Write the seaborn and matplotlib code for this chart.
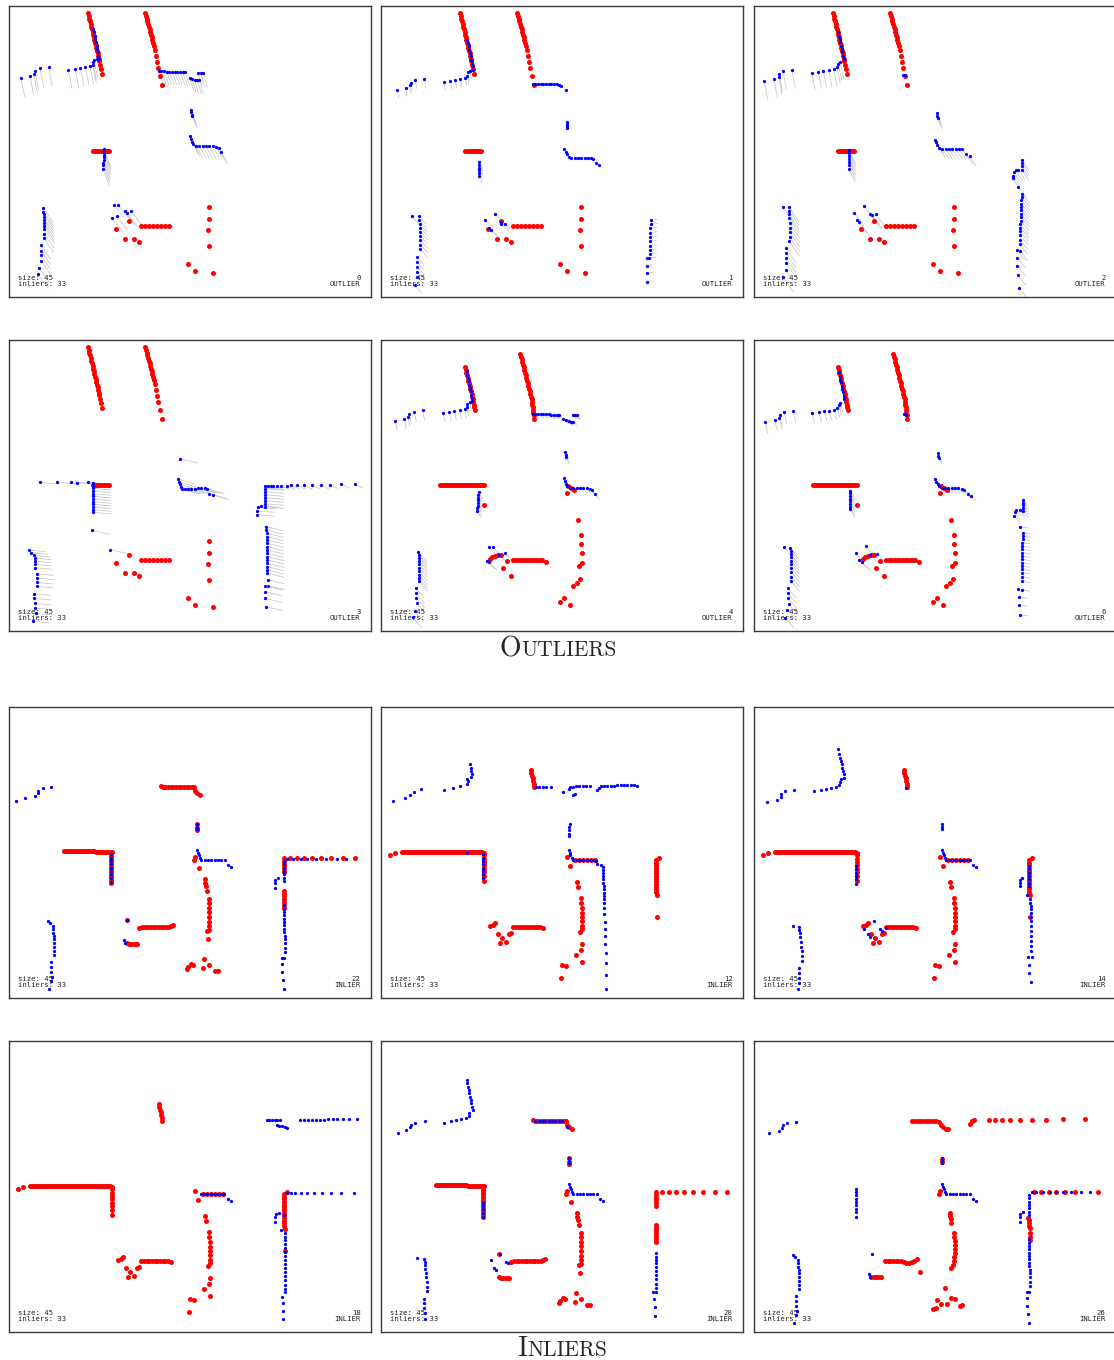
import pandas as pd
import seaborn as sns
import matplotlib.pyplot as plt
from matplotlib.collections import LineCollection

# coordinates are in "scan units": 3 units per output pixel, y grows downward

# ---- red scan shared by outlier panels 0-3
R1_LEFT = [(240, 25), (242, 33), (244, 41), (246, 49), (248, 57), (250, 65), (252, 73), (254, 81), (256, 89),
           (258, 97), (259, 105), (261, 113), (263, 121), (265, 129), (267, 137), (269, 145), (271, 153),
           (272, 161), (274, 169), (276, 179), (278, 192), (281, 207)]
R1_RIGHT = [(412, 25), (414, 33), (416, 41), (418, 49), (420, 57), (423, 65), (425, 73), (427, 81), (429, 89),
            (431, 97), (433, 105), (436, 113), (438, 124), (440, 136), (443, 152), (446, 170), (450, 190),
            (456, 213), (461, 240)]
R1_T = [(256, 438), (262, 438), (268, 439), (274, 439), (280, 439), (286, 439), (292, 439), (298, 439), (304, 438)]
R1_BOTTOM = [(400, 663), (412, 663), (424, 663), (436, 663), (448, 663), (460, 663), (472, 663), (484, 662),
             (362, 648), (323, 671), (351, 702), (378, 702), (394, 712), (604, 606), (604, 643), (601, 676),
             (603, 723), (540, 777), (561, 797), (614, 803)]

# ---- red scan shared by outlier panels 4 and 6
R2_LEFT = [(255, 85), (257, 93), (259, 101), (261, 109), (263, 117), (265, 125), (267, 133), (269, 141),
           (271, 149), (273, 157), (275, 165), (277, 173), (279, 181), (280, 189), (282, 197), (283, 205),
           (284, 212)]
R2_RIGHT = [(421, 45), (423, 53), (425, 61), (427, 69), (429, 77), (431, 85), (433, 93), (435, 101), (437, 109),
            (439, 117), (441, 125), (443, 133), (445, 141), (447, 149), (449, 157), (451, 165), (453, 173),
            (455, 181), (456, 189), (457, 197), (458, 205), (459, 213), (460, 221), (461, 229), (462, 240)]
R2_WALL = [(180, 437), (186, 437), (192, 437), (198, 437), (204, 437), (210, 437), (216, 437), (222, 437),
           (228, 437), (234, 437), (240, 437), (246, 438), (252, 438), (258, 438), (264, 438), (270, 438),
           (276, 438), (282, 438), (288, 438), (294, 439), (300, 439), (306, 439), (312, 439), (312, 497)]
R2_MID = [(565, 440), (572, 448), (582, 452), (562, 463)]
R2_BOTTOM = [(399, 664), (407, 664), (415, 664), (423, 664), (431, 664), (439, 664), (447, 664), (455, 663),
             (463, 663), (471, 663), (479, 662), (487, 663), (498, 668), (337, 654), (346, 650), (354, 648),
             (362, 649), (330, 660), (380, 666), (370, 686), (394, 712), (593, 543), (603, 589), (604, 616),
             (605, 643), (605, 672), (597, 681), (600, 721), (591, 731), (579, 740), (551, 776), (541, 789),
             (571, 798)]

# ---- blue scans of the outlier panels (with correspondence offsets)
B0_ROW_A = [(39, 218), (66, 213), (77, 206), (81, 197), (96, 190), (122, 187)]
B0_ROW_B = [(181, 195), (201, 192), (217, 189), (232, 186), (246, 184), (254, 180), (254, 170), (258, 165)]
B0_DIAG = [(256, 72), (258, 82), (260, 92), (262, 102), (264, 112), (266, 122), (267, 132), (269, 142),
           (270, 152), (272, 162), (266, 162)]
B0_TOP = [(452, 199), (460, 199), (468, 199), (476, 200), (484, 200), (492, 200), (500, 200), (508, 201),
          (516, 201), (524, 202), (531, 202)]
B0_TOP2 = [(545, 218), (552, 222), (560, 226), (568, 226), (574, 224), (570, 203), (578, 204), (586, 205)]
B0_POST = [(548, 315), (550, 322), (551, 330), (553, 334)]
B0_L = [(546, 394), (548, 402), (551, 410), (556, 418), (564, 422), (574, 423), (584, 423), (594, 424),
        (604, 424), (614, 424), (624, 425), (632, 428), (638, 441)]
B0_T = [(288, 433), (289, 441), (289, 449), (288, 457), (287, 465), (286, 473), (285, 481), (284, 491)]
B0_SW = [(106, 610), (106, 620), (107, 628), (107, 637), (108, 646), (108, 655), (109, 664), (109, 673),
         (108, 686), (107, 700), (98, 720), (98, 737), (98, 751), (99, 767), (93, 789), (90, 808)]
B0_S = [(319, 599), (330, 599), (350, 619), (357, 623), (369, 617), (311, 638), (326, 634)]

B1_ROW_A = [(52, 255), (77, 248), (89, 241), (93, 233), (106, 226), (133, 223)]
B1_ROW_B = [(191, 231), (211, 228), (226, 224), (240, 221), (256, 218), (262, 212), (263, 202), (270, 198)]
B1_DIAG = [(262, 104), (264, 114), (266, 124), (268, 134), (270, 144), (272, 154), (274, 164), (276, 174),
           (278, 184), (280, 194)]
B1_TOP = [(458, 237), (466, 236), (474, 236), (482, 236), (490, 237), (498, 237), (506, 237), (514, 237),
          (522, 238), (530, 238), (538, 239), (544, 242), (557, 255)]
B1_POST = [(560, 350), (561, 357), (561, 364), (560, 369)]
B1_L = [(553, 432), (557, 440), (561, 447), (566, 455), (574, 458), (584, 458), (594, 458), (604, 458),
        (614, 459), (624, 459), (634, 460), (640, 462), (648, 474), (656, 479)]
B1_T = [(298, 472), (298, 480), (298, 488), (298, 496), (297, 504), (296, 514)]
B1_SW = [(95, 634), (117, 634), (118, 646), (119, 657), (120, 668), (121, 680), (121, 693), (121, 706),
         (121, 719), (121, 733), (110, 756), (110, 771), (111, 785), (112, 800), (112, 816), (104, 841)]
B1_S = [(344, 628), (316, 646), (327, 670), (332, 676), (362, 656), (364, 650), (376, 656)]
B1_E = [(812, 646), (812, 658), (811, 670), (811, 683), (811, 696), (810, 709), (810, 722), (810, 735),
        (809, 746), (800, 760), (808, 760), (800, 782), (800, 805), (802, 832)]

B2_ROW_A = [(34, 228), (63, 223), (77, 215), (78, 206), (90, 199), (117, 196)]
B2_ROW_B = [(176, 204), (196, 201), (211, 198), (227, 195), (242, 193), (252, 186), (256, 176), (262, 172)]
B2_DIAG = [(256, 82), (258, 92), (260, 102), (262, 112), (264, 122), (266, 132), (268, 142), (270, 152),
           (272, 162), (450, 209), (456, 210)]
B2_POST = [(551, 324), (552, 332), (554, 340)]
B2_L = [(545, 404), (548, 412), (553, 420), (558, 428), (568, 431), (578, 432), (588, 432), (598, 432),
        (608, 432), (618, 433), (628, 433), (640, 448), (650, 453)]
B2_T = [(288, 436), (288, 445), (288, 454), (288, 463), (288, 472), (288, 481), (287, 491)]
B2_HOOK = [(808, 466), (807, 475), (806, 484), (806, 494), (796, 494), (788, 496), (782, 502), (780, 512),
           (779, 520)]
B2_E = [(796, 547), (806, 566), (806, 576), (805, 586), (805, 596), (804, 606), (804, 616), (803, 626),
        (803, 636), (803, 647), (802, 658), (802, 668), (801, 678), (801, 690), (800, 704), (800, 718),
        (791, 735), (800, 737), (792, 758), (792, 782), (794, 811), (797, 848)]
B2_SW = [(90, 606), (108, 606), (108, 617), (108, 628), (109, 640), (110, 654), (110, 668), (110, 681),
         (110, 695), (109, 708), (100, 730), (99, 744), (99, 758), (100, 774), (98, 794), (90, 815)]
B2_S = [(333, 603), (303, 623), (350, 627), (357, 630), (368, 626), (313, 646), (319, 652)]

B3_LONE = [(515, 360), (251, 574), (306, 632)]
B3_ROW = [(96, 430), (147, 430), (190, 428), (207, 431), (241, 430)]
B3_T = [(255, 432), (255, 440), (255, 448), (255, 456), (255, 464), (255, 472), (255, 480), (255, 488),
        (255, 496), (255, 504), (255, 512), (256, 520)]
B3_MID = [(510, 420), (513, 428), (516, 436), (518, 444), (522, 450), (530, 450), (540, 450), (550, 449),
          (560, 449), (570, 448), (580, 448), (590, 448), (598, 449), (604, 464), (614, 467)]
B3_SW = [(62, 633), (68, 641), (77, 649), (81, 657), (81, 666), (81, 676), (82, 686), (86, 704), (87, 717),
         (87, 730), (88, 742), (78, 764), (79, 778), (80, 793), (82, 807), (84, 823), (74, 847)]
B3_NE = [(772, 441), (780, 441), (788, 441), (796, 441), (806, 441), (820, 441), (836, 440), (850, 439),
         (868, 439), (888, 439), (911, 438), (938, 438), (966, 437), (1000, 436), (1040, 435)]
B3_HOOK = [(772, 449), (772, 458), (772, 467), (772, 476), (772, 485), (771, 494), (771, 503), (760, 500),
           (750, 505), (746, 515), (746, 527)]
B3_E = [(775, 563), (775, 573), (776, 583), (776, 593), (777, 603), (777, 613), (777, 623), (777, 633),
        (777, 643), (778, 653), (778, 663), (778, 673), (778, 683), (778, 693), (778, 703), (779, 722),
        (772, 741), (779, 740), (771, 758), (771, 778), (775, 803)]

B4_ROW_A = [(46, 246), (73, 240), (84, 233), (88, 224), (103, 218), (128, 214)]
B4_ROW_B = [(189, 221), (208, 218), (223, 215), (239, 214), (254, 211), (260, 203), (262, 194), (270, 190)]
B4_DIAG = [(260, 97), (262, 107), (264, 117), (266, 127), (268, 137), (270, 147), (272, 157), (274, 167),
           (276, 177), (276, 187)]
B4_TOP = [(458, 225), (466, 225), (474, 226), (482, 226), (490, 226), (498, 226), (506, 226), (514, 227),
          (522, 227), (530, 227), (538, 227), (550, 240), (558, 244), (566, 246), (572, 250), (580, 248),
          (578, 228), (586, 228), (592, 229)]
B4_POST = [(556, 340), (557, 348), (558, 355)]
B4_L = [(552, 418), (555, 426), (559, 434), (562, 442), (570, 446), (580, 447), (590, 447), (600, 447),
        (610, 448), (620, 448), (630, 449), (636, 452), (646, 466)]
B4_T = [(296, 460), (295, 468), (295, 476), (294, 484), (294, 492), (293, 500), (292, 508), (292, 517)]
B4_SW = [(115, 638), (116, 647), (117, 656), (117, 665), (118, 675), (118, 686), (118, 697), (118, 708),
         (118, 718), (118, 727), (108, 748), (108, 763), (109, 777), (110, 792), (104, 816), (99, 835)]
B4_S = [(327, 625), (338, 625), (320, 665), (326, 668), (358, 647), (375, 643)]

B6_ROW_A = [(36, 248), (65, 242), (79, 236), (80, 227), (93, 219), (120, 216)]
B6_ROW_B = [(177, 223), (198, 220), (214, 217), (229, 215), (243, 212), (253, 207), (258, 198), (262, 192)]
B6_DIAG = [(258, 100), (260, 110), (262, 120), (264, 130), (266, 140), (268, 150), (270, 160), (272, 170),
           (274, 180), (453, 226), (460, 228)]
B6_POST = [(555, 342), (556, 350), (557, 357)]
B6_L = [(546, 420), (550, 428), (554, 434), (558, 442), (566, 446), (576, 447), (586, 447), (596, 448),
        (606, 448), (616, 448), (626, 449), (634, 452), (644, 465), (654, 470)]
B6_T = [(292, 455), (292, 463), (292, 471), (292, 479), (292, 487), (292, 495), (291, 503), (291, 511)]
B6_HOOK = [(811, 483), (811, 491), (811, 499), (811, 507), (810, 515), (800, 512), (790, 513), (785, 520),
           (784, 530)]
B6_E = [(800, 563), (809, 581), (809, 591), (809, 601), (808, 611), (808, 621), (808, 631), (808, 641),
        (808, 651), (808, 661), (807, 671), (807, 681), (807, 691), (806, 701), (806, 713), (806, 727),
        (796, 751), (806, 753), (797, 774), (798, 798), (800, 827)]
B6_SW = [(94, 625), (112, 628), (113, 637), (113, 646), (114, 655), (114, 665), (115, 675), (115, 687),
         (115, 700), (115, 714), (115, 727), (105, 748), (105, 763), (106, 778), (107, 794), (103, 812), (97, 836)]
B6_S = [(338, 622), (308, 643), (352, 648), (373, 645), (318, 663), (326, 668)]

# ---- red scan shared by inlier panels 12, 14, 18
RA_TOP = [(452, 193), (454, 201), (456, 209), (458, 217), (460, 225), (462, 233), (462, 243)]
RA_WALL = [(30, 447), (46, 442), (66, 437), (72, 437), (78, 437), (84, 437), (90, 437), (96, 437), (102, 437),
           (108, 437), (114, 437), (120, 437), (126, 437), (132, 437), (138, 437), (144, 437), (150, 437),
           (156, 437), (162, 437), (168, 437), (174, 437), (180, 437), (186, 437), (192, 437), (198, 437),
           (204, 437), (210, 437), (216, 437), (222, 437), (228, 437), (234, 437), (240, 437), (246, 438),
           (252, 438), (258, 438), (264, 438), (270, 438), (276, 438), (282, 438), (288, 438), (294, 438),
           (300, 438), (306, 439), (312, 440)]
RA_DROP = [(312, 448), (312, 458), (312, 468), (312, 478), (312, 488), (312, 498), (312, 510), (312, 524)]
RA_MID = [(560, 454), (570, 481), (584, 461), (596, 461), (608, 461), (620, 461), (632, 461), (644, 461)]
RA_EAST = [(836, 457), (828, 462), (828, 470), (828, 478), (828, 486), (828, 494), (828, 502), (828, 510),
           (828, 518), (828, 526), (828, 534), (829, 542), (829, 550), (829, 558), (830, 568), (830, 634)]
RA_SOUTH = [(592, 528), (595, 544), (603, 576), (604, 590), (605, 605), (605, 620), (605, 633), (605, 646),
            (605, 660), (606, 668), (601, 679), (607, 715), (604, 732), (589, 748), (606, 767), (545, 776),
            (557, 779), (544, 816)]
RA_BENCH = [(400, 664), (408, 664), (416, 664), (424, 664), (432, 664), (440, 664), (448, 664), (456, 664),
            (464, 663), (472, 663), (480, 663), (490, 667), (330, 659), (338, 656), (346, 652), (353, 684),
            (359, 710), (367, 697), (377, 708), (386, 684), (394, 681)]

# ---- red scan shared by inlier panels 22 and 20
RB_TOP = [(460, 240), (466, 242), (472, 242), (480, 242), (488, 242), (496, 242), (504, 242), (512, 242),
          (520, 242), (528, 242), (536, 242), (544, 243), (552, 243), (558, 244), (562, 254), (566, 262),
          (575, 266)]
RB_WALL = [(168, 435), (174, 435), (180, 435), (186, 435), (192, 435), (198, 435), (204, 435), (210, 435),
           (216, 435), (222, 435), (228, 435), (234, 436), (240, 436), (246, 436), (252, 436), (258, 436),
           (264, 437), (270, 437), (276, 437), (282, 437), (288, 437), (294, 437), (300, 437), (306, 438),
           (312, 438)]
RB_DROP = [(310, 442), (310, 450), (310, 458), (310, 466), (310, 474), (310, 482), (310, 490), (310, 498),
           (310, 506), (310, 514), (310, 522), (310, 530)]
RB_MID = [(566, 355), (566, 365), (567, 372), (560, 452), (558, 462), (573, 486)]
RB_SOUTH = [(591, 518), (592, 530), (593, 540), (597, 556), (602, 580), (603, 592), (603, 605), (603, 618),
            (603, 632), (603, 648), (602, 660), (602, 672), (597, 676), (601, 699), (587, 760), (548, 775),
            (541, 782), (537, 788), (555, 777), (603, 778), (586, 785), (620, 796), (630, 796)]
RB_BENCH = [(394, 665), (402, 664), (410, 664), (418, 664), (426, 664), (434, 664), (442, 663), (450, 663),
            (458, 663), (466, 663), (474, 663), (482, 663), (490, 661), (496, 658), (358, 641), (356, 712),
            (363, 713), (370, 713), (377, 713), (384, 713), (388, 713)]
RB_EAST = [(828, 457), (845, 457), (868, 457), (888, 457), (912, 457), (940, 457), (970, 457), (1005, 457),
           (1040, 457), (828, 465), (828, 473), (828, 481), (828, 489), (828, 497), (828, 555), (828, 563),
           (828, 571), (828, 579), (828, 587), (828, 597), (829, 605)]

# ---- red scan of inlier panel 26
R26_TOP = [(478, 242), (486, 242), (494, 242), (502, 242), (510, 242), (518, 242), (526, 242), (534, 242),
           (542, 242), (550, 243), (558, 245), (564, 254), (570, 262), (578, 266), (585, 267), (650, 252),
           (656, 244), (664, 241), (708, 241), (726, 241), (748, 241), (772, 240), (800, 240), (836, 239),
           (878, 239), (930, 238), (997, 237)]
R26_MID = [(566, 356), (567, 366), (560, 452), (558, 462)]
R26_SOUTH = [(591, 518), (592, 528), (593, 538), (593, 548), (603, 580), (604, 592), (605, 604), (605, 616),
             (605, 628), (605, 640), (604, 652), (604, 664), (599, 676), (594, 683), (577, 744), (553, 779),
             (548, 805), (540, 808), (563, 791), (581, 791), (594, 773), (605, 777), (620, 797), (628, 795)]
R26_BENCH = [(396, 662), (404, 662), (412, 662), (420, 662), (428, 662), (436, 663), (444, 664), (452, 666),
             (460, 668), (468, 668), (476, 666), (484, 663), (492, 658), (502, 697), (355, 710), (362, 711),
             (369, 711), (376, 711), (384, 710)]
R26_EAST = [(843, 457), (865, 457), (887, 457), (908, 457), (936, 457), (966, 457), (1036, 456), (826, 533),
            (828, 541), (828, 549), (828, 557), (830, 565), (831, 580), (831, 590), (832, 600)]

# ---- blue scans of the inlier panels
BI_POST = [(567, 354), (567, 362), (567, 370)]
BI_L = [(566, 432), (570, 440), (573, 448), (576, 456), (580, 462), (590, 462), (600, 462), (610, 462),
        (620, 462), (630, 462), (640, 462), (650, 462), (660, 478), (670, 482)]
BI_SW = [(120, 645), (127, 652), (134, 660), (135, 670), (136, 680), (137, 690), (138, 700), (138, 710),
         (138, 722), (138, 735), (138, 747), (129, 768), (130, 782), (130, 797), (131, 812), (128, 826), (124, 848)]
BI_SMALL_S = [(358, 641), (348, 702), (352, 710)]
BI_EAST_V = [(828, 465), (828, 475), (828, 485), (828, 495), (828, 505), (829, 515), (829, 525), (810, 516),
             (802, 522), (800, 532), (800, 545)]
BI_EAST_LONG = [(829, 598), (829, 608), (829, 618), (829, 628), (829, 638), (829, 648), (829, 658), (829, 668),
                (829, 678), (830, 690), (830, 700), (830, 712), (830, 725), (830, 738), (828, 755), (822, 757),
                (822, 773), (823, 797), (826, 823), (828, 850)]

B22_NW = [(24, 284), (52, 277), (80, 270), (91, 262), (91, 255), (104, 247), (130, 243)]
B22_DROP = [(310, 445), (310, 455), (310, 465), (310, 475), (310, 485), (310, 495), (310, 505), (310, 515),
            (310, 527)]
B22_ROW = [(836, 458), (856, 458), (878, 458), (898, 458), (925, 458), (955, 458), (988, 458), (1013, 458)]

B12_NW = [(38, 285), (76, 277), (89, 267), (102, 257), (124, 249), (193, 251), (219, 246), (240, 241),
          (261, 234), (263, 226), (262, 218), (274, 212), (276, 204), (274, 196), (272, 186), (270, 175)]
B12_NE = [(468, 243), (478, 243), (488, 243), (498, 243), (514, 243), (550, 258), (578, 266), (584, 264),
          (568, 248), (570, 242), (578, 242), (588, 241), (598, 241), (608, 241), (618, 241), (630, 241),
          (650, 252), (656, 246), (662, 240), (672, 240), (682, 239), (692, 239), (702, 239), (712, 238),
          (722, 238), (732, 238), (742, 238), (752, 238), (762, 238), (770, 240)]
B12_POST = [(569, 355), (568, 363), (567, 372), (567, 384), (568, 390), (262, 441)]
B12_L = [(567, 432), (570, 440), (571, 448), (576, 456), (580, 462), (590, 462), (600, 462), (610, 462),
         (620, 463), (630, 463), (640, 463), (648, 465), (652, 474), (662, 478), (668, 482), (670, 492),
         (670, 500), (670, 510), (670, 520), (670, 530), (671, 540), (671, 550), (671, 560), (671, 570),
         (672, 580), (672, 590), (672, 605), (673, 625), (674, 647), (675, 668), (676, 690), (676, 713),
         (677, 740), (677, 771), (678, 807), (679, 849)]
B12_DROP = [(310, 445), (310, 455), (310, 465), (310, 475), (310, 485), (310, 495), (310, 505), (310, 515)]

B14_NW = [(42, 289), (71, 282), (84, 274), (85, 265), (97, 256), (124, 252), (183, 256), (203, 252),
          (218, 248), (234, 245), (248, 242), (259, 236), (262, 228), (264, 220), (274, 215), (272, 205),
          (270, 195), (268, 185), (266, 175), (263, 165), (261, 155), (259, 143), (256, 130)]
B14_MISC = [(459, 245), (362, 646), (334, 668), (346, 684), (352, 692), (381, 670), (386, 674), (398, 666)]
B14_DROP = [(310, 480), (310, 490), (310, 500), (310, 510), (310, 520), (310, 535)]
B14_EAST = [(808, 515), (802, 522), (801, 532), (801, 540), (829, 480), (829, 490), (829, 500), (829, 510),
            (829, 520), (829, 530), (829, 540), (822, 566), (832, 580), (832, 590), (833, 600), (833, 610),
            (833, 620), (834, 632), (834, 645), (834, 660), (835, 675), (835, 690), (835, 705), (835, 720),
            (835, 735), (836, 753), (826, 754), (829, 776), (829, 800), (834, 829)]
B14_SW = [(119, 661), (138, 662), (139, 672), (140, 682), (142, 692), (144, 708), (145, 722), (146, 736),
          (146, 750), (147, 764), (138, 785), (137, 800), (137, 815), (138, 830), (136, 848)]

B18_NE = [(776, 240), (784, 240), (792, 240), (800, 240), (808, 240), (816, 241), (806, 256), (814, 258),
          (822, 258), (830, 262), (836, 264), (876, 239), (888, 239), (900, 239), (912, 239), (924, 239),
          (936, 239), (948, 239), (960, 238), (974, 238), (988, 238), (1004, 238), (1024, 238), (1046, 238)]
B18_L = [(578, 461), (588, 461), (598, 461), (608, 461), (618, 461), (628, 461), (638, 461), (648, 462),
         (660, 478), (668, 482)]
B18_EAST = [(836, 459), (848, 459), (862, 459), (878, 459), (898, 459), (918, 459), (942, 459), (968, 459),
            (998, 459), (1037, 458), (812, 518), (804, 522), (801, 532), (802, 545), (829, 525), (820, 570),
            (830, 580), (830, 590), (830, 600), (830, 612), (830, 624), (830, 636), (831, 648), (831, 660),
            (831, 672), (831, 684), (831, 696), (831, 708), (831, 720), (831, 734), (831, 746), (832, 756),
            (822, 770), (824, 790), (824, 812), (826, 838)]

B20_NW = [(55, 278), (78, 271), (90, 262), (94, 255), (106, 248), (135, 243), (193, 248), (212, 244),
          (228, 241), (244, 238), (258, 234), (266, 228), (266, 218), (278, 210), (276, 200), (274, 190),
          (272, 180), (270, 170), (268, 160), (266, 150), (264, 140), (262, 130), (260, 120)]
B20_TOP = [(466, 242), (476, 242), (486, 242), (496, 242), (506, 242), (516, 242), (526, 242), (536, 242),
           (546, 243), (560, 260)]
B20_DROP = [(310, 488), (310, 498), (310, 508), (310, 518), (310, 530)]
B20_S = [(360, 641), (332, 661), (341, 684), (348, 690), (378, 665), (384, 668)]
B20_SW = [(112, 655), (133, 656), (134, 666), (135, 676), (136, 687), (137, 698), (138, 710), (140, 726),
          (141, 740), (141, 754), (131, 776), (132, 790), (133, 805), (134, 820), (134, 836)]
B20_EAST = [(827, 640), (827, 650), (827, 660), (827, 670), (827, 680), (827, 692), (827, 705), (827, 718),
            (827, 731), (827, 743), (828, 755), (820, 755), (822, 776), (824, 800), (825, 827)]

B26_NW = [(49, 278), (78, 272), (88, 264), (90, 256), (102, 249), (128, 245)]
B26_DROP = [(308, 446), (308, 456), (308, 466), (308, 476), (308, 486), (308, 496), (308, 506), (308, 516),
            (308, 532)]
B26_ROW = [(838, 457), (850, 457), (870, 457), (890, 457), (910, 457), (930, 457), (955, 457), (985, 457),
           (1010, 457)]

R1 = [R1_LEFT, R1_RIGHT, R1_T, R1_BOTTOM]
R2 = [R2_LEFT, R2_RIGHT, R2_WALL, R2_MID, R2_BOTTOM]
RA = [RA_TOP, RA_WALL, RA_DROP, RA_MID, RA_EAST, RA_SOUTH, RA_BENCH]
RB = [RB_TOP, RB_WALL, RB_DROP, RB_MID, RB_SOUTH, RB_BENCH, RB_EAST]
R26 = [R26_TOP, R26_MID, R26_SOUTH, R26_BENCH, R26_EAST]

# (row, col, frame number, label, red pieces, blue pieces with correspondence offset)
PANELS = [
    (0, 0, '0', 'OUTLIER', R1,
     [(B0_ROW_A, (11, 58)), (B0_ROW_B, (11, 55)), (B0_DIAG, None), (B0_TOP, (15, 40)), (B0_TOP2, (12, 40)),
      (B0_POST, (15, 35)), (B0_L, (20, 36)), (B0_T, (20, 50)), (B0_SW, (30, 42)), (B0_S, (32, 42))]),
    (0, 1, '1', 'OUTLIER', R1,
     [(B1_ROW_A, (4, 25)), (B1_ROW_B, (4, 25)), (B1_DIAG, None), (B1_TOP, None), (B1_POST, None),
      (B1_L, None), (B1_T, (10, 18)), (B1_SW, (22, 24)), (B1_S, (25, 22)), (B1_E, (20, -3))]),
    (0, 2, '2', 'OUTLIER', R1,
     [(B2_ROW_A, (10, 55)), (B2_ROW_B, (10, 50)), (B2_DIAG, None), (B2_POST, (15, 35)), (B2_L, (20, 30)),
      (B2_T, (20, 40)), (B2_HOOK, (20, 30)), (B2_E, (25, 30)), (B2_SW, (30, 45)), (B2_S, (30, 40))]),
    (1, 0, '3', 'OUTLIER', R1,
     [(B3_LONE, (55, 12)), (B3_ROW, (60, 5)), (B3_T, (55, 5)), (B3_MID, (50, 15)), (B3_SW, (50, 5)),
      (B3_NE, (25, 12)), (B3_HOOK, (55, 5)), (B3_E, (50, 12))]),
    (1, 1, '4', 'OUTLIER', R2,
     [(B4_ROW_A, (6, 30)), (B4_ROW_B, (6, 28)), (B4_DIAG, None), (B4_TOP, (10, 12)), (B4_POST, (10, 20)),
      (B4_L, (12, 15)), (B4_T, (12, 20)), (B4_SW, (25, 30)), (B4_S, (25, 25))]),
    (1, 2, '6', 'OUTLIER', R2,
     [(B6_ROW_A, (8, 35)), (B6_ROW_B, (8, 30)), (B6_DIAG, None), (B6_POST, (10, 20)), (B6_L, (15, 15)),
      (B6_T, (15, 25)), (B6_HOOK, (15, 20)), (B6_E, (25, 4)), (B6_SW, (25, 30)), (B6_S, (25, 25))]),
    (2, 0, '22', 'INLIER', RB,
     [(B22_NW, None), (BI_POST, None), (BI_L, None), (B22_DROP, None), (BI_SW, None), (BI_SMALL_S, None),
      (BI_EAST_V, None), (BI_EAST_LONG, None), (B22_ROW, None)]),
    (2, 1, '12', 'INLIER', RA,
     [(B12_NW, None), (B12_NE, None), (B12_POST, None), (B12_L, None), (B12_DROP, None)]),
    (2, 2, '14', 'INLIER', RA,
     [(B14_NW, None), (B14_MISC, None), (BI_POST, None), (BI_L, None), (B14_DROP, None), (B14_EAST, None),
      (B14_SW, None)]),
    (3, 0, '18', 'INLIER', RA,
     [(B18_NE, None), (B18_L, None), (B18_EAST, None)]),
    (3, 1, '20', 'INLIER', RB,
     [(B20_NW, None), (B20_TOP, None), (BI_POST, None), (BI_L, None), (B20_DROP, None), (B20_S, None),
      (B20_SW, None), (B20_EAST, None)]),
    (3, 2, '26', 'INLIER', R26,
     [(B26_NW, None), (B26_DROP, None), (BI_POST, None), (BI_L, None), (BI_SMALL_S, None), (BI_SW, None),
      (BI_EAST_V, None), (BI_EAST_LONG, None), (B26_ROW, None)]),
]

W, H = 1114, 1360
COL_X = [8, 380, 753]
ROW_Y = [5, 339, 706, 1040]

sns.set_style('white')
fig = plt.figure(figsize=(W / 100, H / 100), dpi=100)


def to_frame(pieces):
    return pd.DataFrame([p for piece in pieces for p in piece], columns=['x', 'y'])


for row, col, num, tag, red, blue in PANELS:
    ax = fig.add_axes([(COL_X[col] + 1) / W, 1 - (ROW_Y[row] + 292) / H, 362 / W, 291 / H])
    segs = []
    for pts, link in blue:
        if link is None:
            continue
        segs += [[(x, y), (x + link[0], y + link[1])] for x, y in pts]
    if segs:
        ax.add_collection(LineCollection(segs, colors='#c6c6c6', linewidths=0.55, zorder=1))
    sns.scatterplot(data=to_frame(red), x='x', y='y', color='#ff0000', s=13, linewidth=0,
                    ax=ax, zorder=3, legend=False)
    sns.scatterplot(data=to_frame([p for p, _ in blue]), x='x', y='y', color='#0000ff', s=5.5,
                    linewidth=0, ax=ax, zorder=4, legend=False)
    ax.set_xlim(3, 1089)
    ax.set_ylim(876, 3)
    ax.set_xticks([])
    ax.set_yticks([])
    ax.set_xlabel('')
    ax.set_ylabel('')
    for sp in ax.spines.values():
        sp.set_color('#3a3a3a')
        sp.set_linewidth(1.0)
    mono = dict(family='DejaVu Sans Mono', fontsize=5.2, color='#222222', va='center', zorder=2)
    ax.text(30, 818, 'size: 45', ha='left', **mono)
    ax.text(30, 838, 'inliers: 33', ha='left', **mono)
    ax.text(1058, 818, num, ha='right', **mono)
    ax.text(1058, 838, tag, ha='right', **mono)

# small-caps section captions
for first, rest, split_x, base_y in [('O', 'UTLIERS', 521, 656), ('I', 'NLIERS', 527, 1356)]:
    fig.text(split_x / W, 1 - base_y / H, first, family='cmr10', fontsize=20, ha='right', va='baseline')
    fig.text(split_x / W, 1 - base_y / H, rest, family='cmr10', fontsize=15.5, ha='left', va='baseline')

fig.savefig('out.png', dpi=100, facecolor='white')
